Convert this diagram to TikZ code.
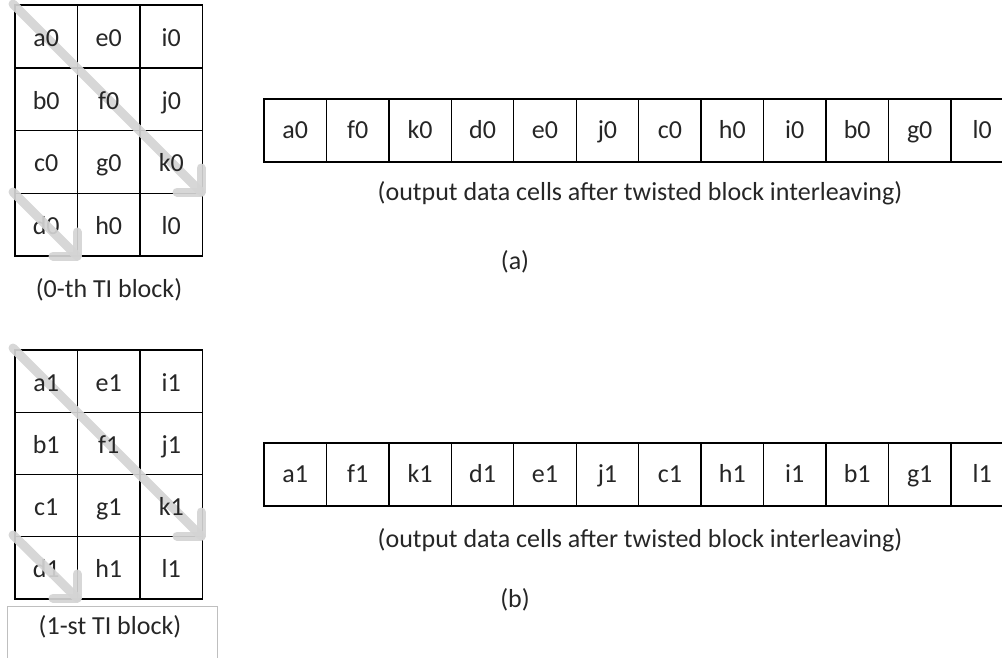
\documentclass[tikz,border=0pt]{standalone}
\usepackage{fontspec}
\setmainfont{Carlito}
\begin{document}
\begin{tikzpicture}[x=1pt,y=-1pt,
  txt/.style={font=\fontsize{26}{30}\selectfont, text=black!85, inner sep=0pt},
  ctxt/.style={txt, text height=16pt, text depth=0pt},
  gcell/.style={draw=black, line width=1.3pt, minimum width=62.5pt, minimum height=62.6pt, inner sep=0pt},
  rcell/.style={ctxt, draw=black, line width=1.3pt, minimum width=62.45pt, minimum height=63pt},
  garrow/.style={draw=black!17, line width=9pt, line cap=round, line join=round, opacity=0.92}]
\useasboundingbox (0,0) rectangle (1002,657);
% ---- grid cells (0-th block)
\foreach \i in {0,...,11}{
  \pgfmathtruncatemacro{\c}{int(\i/4)}
  \pgfmathtruncatemacro{\r}{mod(\i,4)}
  \node[gcell] (A\i) at (46.25+62.5*\c, 36.4+62.75*\r) {};
}
% ---- grid cells (1-st block)
\foreach \i in {0,...,11}{
  \pgfmathtruncatemacro{\c}{int(\i/4)}
  \pgfmathtruncatemacro{\r}{mod(\i,4)}
  \node[gcell, minimum height=62.25pt] (B\i) at (46.25+62.5*\c, 381.1+62.25*\r) {};
}
% ---- long diagonal arrows (below the labels)
\coordinate (a1s) at (13,4);   \coordinate (a1e) at (201,192);
\coordinate (b1s) at (13,348); \coordinate (b1e) at (201,536);
\foreach \s/\e in {a1s/a1e,b1s/b1e}{
  \draw[garrow] (\s) -- (\e);
  \draw[garrow] ([yshift=24pt]\e) -- (\e) -- ([xshift=-24pt]\e);
}
% ---- labels of the grids
\foreach \lab [count=\i from 0] in {a0,b0,c0,d0,e0,f0,g0,h0,i0,j0,k0,l0}{
  \node[ctxt] (At\i) at ([yshift=-2pt]A\i.center) {\lab};
}
\foreach \lab [count=\i from 0] in {a1,b1,c1,d1,e1,f1,g1,h1,i1,j1,k1,l1}{
  \node[ctxt] (Bt\i) at ([yshift=-2pt]B\i.center) {\lab};
}
% ---- short arrows (over the labels)
\coordinate (a2s) at (13,192); \coordinate (a2e) at (77,256);
\coordinate (b2s) at (13,535); \coordinate (b2e) at (77,598);
\foreach \s/\e in {a2s/a2e,b2s/b2e}{
  \draw[garrow] (\s) -- (\e);
  \draw[garrow] ([yshift=24pt]\e) -- (\e) -- ([xshift=-24pt]\e);
}
\node[txt] (capA) at (109,290) {(0-th TI block)};
\node[draw=black!25, line width=0.8pt, minimum width=210pt, minimum height=60pt, anchor=north west, inner sep=0pt] (capB) at (7,606) {};
\node[txt] (capBt) at (110,627) {(1-st TI block)};
% ---- output rows
\foreach \lab [count=\i from 0] in {a0,f0,k0,d0,e0,j0,c0,h0,i0,b0,g0,l0}{
  \node[rcell] (R\i) at (295.2+62.45*\i, 130.5) {\lab};
}
\node[txt] (outA) at (640,193) {(output data cells after twisted block interleaving)};
\node[txt] (labA) at (515,262) {(a)};
\foreach \lab [count=\i from 0] in {a1,f1,k1,d1,e1,j1,c1,h1,i1,b1,g1,l1}{
  \node[rcell] (S\i) at (295.2+62.45*\i, 474.5) {\lab};
}
\node[txt] (outB) at (640,540) {(output data cells after twisted block interleaving)};
\node[txt] (labB) at (515,600) {(b)};
\end{tikzpicture}
\end{document}
